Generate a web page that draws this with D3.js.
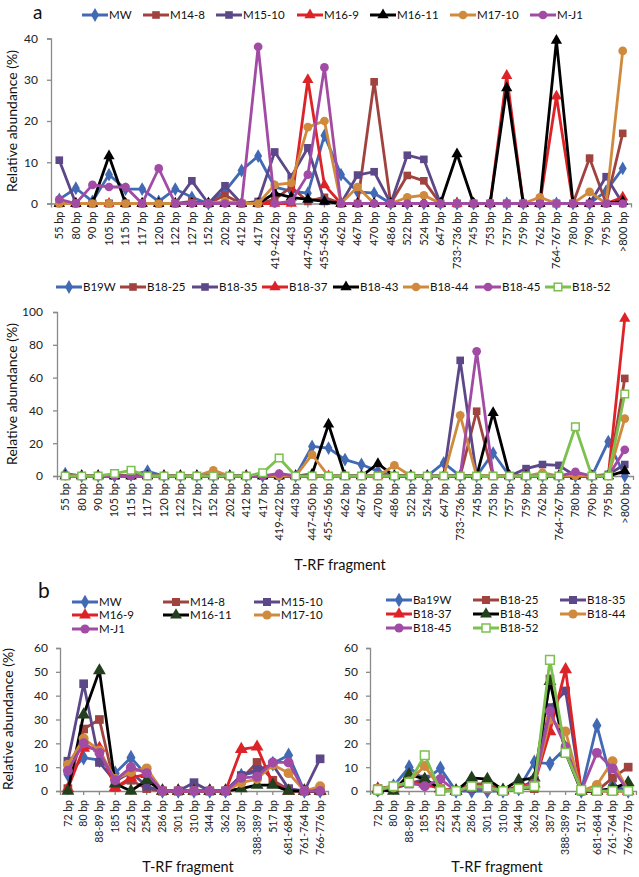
<!DOCTYPE html>
<html><head><meta charset="utf-8">
<script src="https://cdn.jsdelivr.net/npm/d3@7"></script>
<style>body{margin:0;background:#fff} svg{display:block;font-family:Lato,"Open Sans",sans-serif}</style>
</head><body><svg id="c" width="639" height="877"></svg>
<script>
// ---------- DATA ----------
const catsA = ["55 bp","80 bp","90 bp","105 bp","115 bp","117 bp","120 bp","122 bp","127 bp","152 bp","202 bp","412 bp","417 bp","419-422 bp","443 bp","447-450 bp","455-456 bp","462 bp","467 bp","470 bp","486 bp","522 bp","524 bp","647 bp","733-736 bp","745 bp","753 bp","757 bp","759 bp","762 bp","764-767 bp","780 bp","790 bp","795 bp",">800 bp"];
const namesA1 = ["MW","M14-8","M15-10","M16-9","M16-11","M17-10","M-J1"];
const MW     = [1,3.7,0.5,7,3.5,3.5,0.5,3.5,1.5,0,3,8,11.5,4,3,2.5,16.5,7,2.8,2.5,0,0,0,0,0,0,0,0,0,0,0,0,0,3,8.5];
const M14_8  = [0,0,0,0,0,0,0,0,0.5,0,2,0,0,1,4,0.5,1.5,0,0,29.5,0,6.8,5.5,0,0,0,0,0,0,0,0,0,11,0,17];
const M15_10 = [10.5,0,0,0,0,0,0,0,5.5,0,4.3,0,0.5,12.5,6.5,13.5,0.5,0,6.9,7.7,0,11.7,10.7,0,0,0,0,0,0,0,0,0,0,6.5,0];
const M16_9  = [0,0,0,0,0,0,0,0,0,0,0,0,0,0,0,30,4.5,0,0,0,0,0,0,0,0,0,0,31,0,0,26,0,0,0,1.5];
const M16_11 = [0,0,0,11.5,0,0,0,0,0,0,0,0,0,2.5,1.5,1,0.5,0,0,0,0,0,0,0,12,0,0,28,0,0,39.5,0,0,0,0.5];
const M17_10 = [0,0,0,0,0,0,0,0,0,0,0.5,0,0,4.5,5,18.5,20,0,4,0,0,1.5,2,0,0,0,0,0,0,1.5,0,0,2.8,0,37];
const M_J1   = [1,0,4.5,4,4,0,8.5,0,0,0,0,0,38,0,0.5,7,33,0,0,0,0,0,0,0,0,0,0,0,0,0,0,0,0,0,0];

const namesA2 = ["B19W","B18-25","B18-35","B18-37","B18-43","B18-44","B18-45","B18-52"];
const B19W   = [1.5,0,0,0,0.5,3,0,0,0,0,0,0,0,0,0,18,17,10,7,3,0,0,0,8,0,0,14,0,0,0,0,0,0,21,0];
const B18_25 = [0,0,0,0,0,0,0,0,0,1,0,0,0,0,0,0,0,0,0,0,0,0,0,0,0,39.5,0,0,0,0,0,0,0,0,59.5];
const B18_35 = [0,0,0,0,0,0,0,0,0,0,0,0,0,0,0,0,0,0,0,0,0,0,0,0,70.5,0,0,0,4.5,7,6.5,0,0,1,7];
const B18_37 = [0,0,0,0,0,0,0,0,0,0,0,0,0,0,0,0,0,0,0,0,0,0,0,0,0,0,0,0,0,0,0,0,0,0,96];
const B18_43 = [0,0,0,0,0,0,0,0,0,0,0,0,0,0,0,1,31.5,0,0,7.5,0,0,0,0,0,0,38.5,0,0,0,0,0,0,0,3];
const B18_44 = [0,0,0,0,0,0,0,0,0,3.5,0,0,0,0,0,13,0,0,0,0,6.5,0,0,0,37,0,0,0,0,2,0,0,0,0,35];
const B18_45 = [0,0,0,0,0,0,0,0,0,0,0,0,0,1.5,0,0,0,0,0,0,0,0,0,0,0,76,0,0,0,0,0,2.5,0,0,16];
const B18_52 = [0,0,0,1.5,3.5,0,0,0,0,0,0,0,2,11,0,0,0,0,0,0,0,0,0,0,0,0,0,0,0,0,0,30,0,0,50];

const catsB = ["72 bp","80 bp","88-89 bp","185 bp","225 bp","254 bp","286 bp","301 bp","310 bp","344 bp","362 bp","387 bp","388-389 bp","517 bp","681-684 bp","761-764 bp","766-776 bp"];
const namesB1 = ["MW","M14-8","M15-10","M16-9","M16-11","M17-10","M-J1"];
const bMW     = [7,14,13,7.5,14,6.5,0,0,0,0,0,6.5,8,11.5,15,0,0];
const bM14_8  = [1,26,30,1.5,4.5,1,0,0,0,0,0,5,12,4.5,0.5,0,0];
const bM15_10 = [12.5,45,12,4,8,2,0,0,3.5,0,0,6.5,9,11,1,0,13.5];
const bM16_9  = [1,18,18,1.5,5.5,7,0,0,0,0,0,17.5,18.5,3,0,0,0];
const bM16_11 = [0,32,50.5,3,0,4.5,0,0,0,0,0,1,2.5,2.5,0,0,0];
const bM17_10 = [11,22,17,5,8,9.5,0,0,0,0,0,3.5,5,11,7.5,0,2];
const bM_J1   = [8.5,20,16,4.5,10,7.5,0,0,0,0,0,5.5,6,12,12,0,0];

const namesB2 = ["Ba19W","B18-25","B18-35","B18-37","B18-43","B18-44","B18-45","B18-52"];
const bBa19W  = [0.5,2,10,4.5,9.5,0,0,0,0,1,12,11.5,18,0,27.5,2.5,0];
const bB18_25 = [1,2,3,3,1,0,3,3,0,1,1,47,18,0,0,5.5,10];
const bB18_35 = [0.5,1,3,5,0.5,0,1,1,0,1,4.5,35,42,0,0,1,0];
const bB18_37 = [1,1,4,3,1,0,2,2,0,2,3,25,51,0,0,0,0];
const bB18_43 = [0.5,0,7,5,1,0,5.5,5,0.5,4.5,5.5,46,16,0,0,1,3.5];
const bB18_44 = [1,1.5,4,10.5,1,0,2,1.5,0,1,3,30,25,0,2.5,12.5,0];
const bB18_45 = [0,2,3.5,2,5,0,1.5,0.5,0,1,3,33.5,18.5,0,16,9.5,0];
const bB18_52 = [0.5,2,3.5,15,0,0,2,1.5,0,1,2,55,16,0.5,0,0,0];

const ticksA1 = [0,10,20,30,40];
const ticksA2 = [0,20,40,60,80,100];
const ticksB  = [0,10,20,30,40,50,60];

// ---------- STYLES ----------
const ST = {
  blue:   {c:"#4169B4", s:"diamond"},
  brown:  {c:"#A0433F", s:"square"},
  purple: {c:"#5C4888", s:"square"},
  red:    {c:"#DE2328", s:"triangle"},
  black:  {c:"#000000", s:"triangle", mf:"#000"},
  blackG: {c:"#000000", s:"triangle", mf:"#23401E"},
  orange: {c:"#D08A3E", s:"circle"},
  magenta:{c:"#A24BA5", s:"circle"},
  green:  {c:"#7CC04F", s:"open"}
};
const styleKeysA1 = ["blue","brown","purple","red","black","orange","magenta"];
const styleKeysA2 = ["blue","brown","purple","red","black","orange","magenta","green"];
const styleKeysB1 = ["blue","brown","purple","red","blackG","orange","magenta"];
const styleKeysB2 = ["blue","brown","purple","red","blackG","orange","magenta","green"];

const svg = d3.select("#c");
const axisColor = "#8a8a8a";

function drawMarker(g, key, x, y, k) {
  const st = ST[key];
  let type, size;
  if (st.s === "diamond") { type = d3.symbolDiamond; size = 55*k; }
  else if (st.s === "square" || st.s === "open") { type = d3.symbolSquare; size = 58*k; }
  else if (st.s === "triangle") { type = d3.symbolTriangle; size = 55*k; }
  else { type = d3.symbolCircle; size = 60*k; }
  const p = g.append("path").attr("d", d3.symbol().type(type).size(size)())
    .attr("transform", `translate(${x},${y})`);
  if (st.s === "open") p.attr("fill", "#fff").attr("stroke", st.c).attr("stroke-width", 1.5);
  else p.attr("fill", st.mf || st.c);
}

function drawPanel(o) {
  const g = svg.append("g");
  const x = d3.scaleBand().domain(o.cats).range(o.xr);
  const y = d3.scaleLinear().domain(o.yd).range(o.yr);
  // y axis
  const ya = g.append("g").attr("transform", `translate(${o.xr[0]},0)`)
    .call(d3.axisLeft(y).tickValues(o.ticks).tickSize(4).tickPadding(o.tickPad));
  ya.select(".domain").attr("stroke", axisColor).attr("stroke-width", 1.3);
  ya.selectAll(".tick line").attr("stroke", axisColor).attr("stroke-width", 1.3);
  ya.selectAll(".tick text").attr("font-size", 12).attr("fill", "#222").attr("font-family", "Lato, sans-serif");
  // x axis
  const xa = g.append("g").attr("transform", `translate(0,${o.yr[0]})`)
    .call(d3.axisBottom(x).tickSize(4).tickSizeOuter(4));
  xa.select(".domain").attr("stroke", axisColor).attr("stroke-width", 1.3);
  xa.selectAll(".tick line").attr("stroke", axisColor).attr("stroke-width", 1.3);
  xa.selectAll(".tick text")
    .attr("font-size", o.labSize).attr("fill", "#222").attr("font-family", "Lato, sans-serif")
    .attr("text-anchor", "end").attr("transform", `translate(0,${o.labGap}) rotate(-90)`)
    .attr("x", 0).attr("y", 0).attr("dy", "0.35em");
  const cx = d => x(d) + x.bandwidth()/2;
  // series
  o.series.forEach((vals, si) => {
    const key = o.keys[si];
    const line = d3.line().x((v,i) => cx(o.cats[i])).y(v => y(v));
    g.append("path").datum(vals).attr("d", line).attr("fill", "none")
      .attr("stroke", ST[key].c).attr("stroke-width", o.lw).attr("stroke-linejoin", "miter");
    vals.forEach((v,i) => drawMarker(g, key, cx(o.cats[i]), y(v), o.mk));
  });
  if (o.yTitle) {
    svg.append("text").attr("transform", `translate(${o.yTitle[0]},${o.yTitle[1]}) rotate(-90)`)
      .attr("text-anchor", "middle").attr("font-size", 14).attr("fill", "#111")
      .text("Relative abundance (%)");
  }
  if (o.xTitle) {
    svg.append("text").attr("x", o.xTitle[0]).attr("y", o.xTitle[1])
      .attr("text-anchor", "middle").attr("font-size", 14.5).attr("fill", "#111")
      .text("T-RF fragment");
  }
}

function legend(names, keys, positions, k) {
  names.forEach((n, i) => {
    const [x0, yy] = positions[i];
    const g = svg.append("g");
    g.append("line").attr("x1", x0).attr("x2", x0 + 26).attr("y1", yy).attr("y2", yy)
      .attr("stroke", ST[keys[i]].c).attr("stroke-width", 3);
    drawMarker(g, keys[i], x0 + 13, yy, k);
    g.append("text").attr("x", x0 + 27).attr("y", yy).attr("dy", "0.36em")
      .attr("font-size", 11.5).attr("fill", "#111").text(n);
  });
}

// ---------- PANEL a (top) ----------
svg.append("text").attr("x", 33).attr("y", 19).attr("font-size", 19).attr("fill", "#111").text("a");
legend(namesA1, styleKeysA1,
  [[82,15],[143,15],[216,15],[297,15],[370,15],[450,15],[530,15]], 1);
drawPanel({cats: catsA, xr: [51, 631], yd: [0, 40], yr: [203.5, 38.5], ticks: ticksA1, tickPad: 9,
  series: [MW, M14_8, M15_10, M16_9, M16_11, M17_10, M_J1], keys: styleKeysA1,
  lw: 2.8, mk: 1, labGap: 8, labSize: 11, yTitle: [17, 121]});

// ---------- PANEL a (bottom) ----------
legend(namesA2, styleKeysA2,
  [[56,287],[120,287],[192,287],[262,287],[333,287],[403,287],[475,287],[545,287]], 1);
drawPanel({cats: catsA, xr: [57, 633], yd: [0, 100], yr: [476, 312], ticks: ticksA2, tickPad: 10,
  series: [B19W, B18_25, B18_35, B18_37, B18_43, B18_44, B18_45, B18_52], keys: styleKeysA2,
  lw: 2.8, mk: 1, labGap: 7, labSize: 11, yTitle: [17, 394], xTitle: [340, 570]});

// ---------- PANEL b ----------
svg.append("text").attr("x", 38).attr("y", 598).attr("font-size", 21).attr("fill", "#111").text("b");
legend(namesB1, styleKeysB1,
  [[72,602],[163,602],[254,602],[72,615],[163,615],[254,615],[72,629]], 1.1);
legend(namesB2, styleKeysB2,
  [[386,600],[473,600],[560,600],[386,614],[473,614],[560,614],[386,628],[473,628]], 1.1);
drawPanel({cats: catsB, xr: [60, 328], yd: [0, 60], yr: [791, 648], ticks: ticksB, tickPad: 8,
  series: [bMW, bM14_8, bM15_10, bM16_9, bM16_11, bM17_10, bM_J1], keys: styleKeysB1,
  lw: 2.8, mk: 1.3, labGap: 9, labSize: 10.5, yTitle: [13, 719], xTitle: [188, 872]});
drawPanel({cats: catsB, xr: [370, 636], yd: [0, 60], yr: [791, 648], ticks: ticksB, tickPad: 8,
  series: [bBa19W, bB18_25, bB18_35, bB18_37, bB18_43, bB18_44, bB18_45, bB18_52], keys: styleKeysB2,
  lw: 2.8, mk: 1.3, labGap: 9, labSize: 10.5, xTitle: [497, 872]});
</script>
</body></html>
